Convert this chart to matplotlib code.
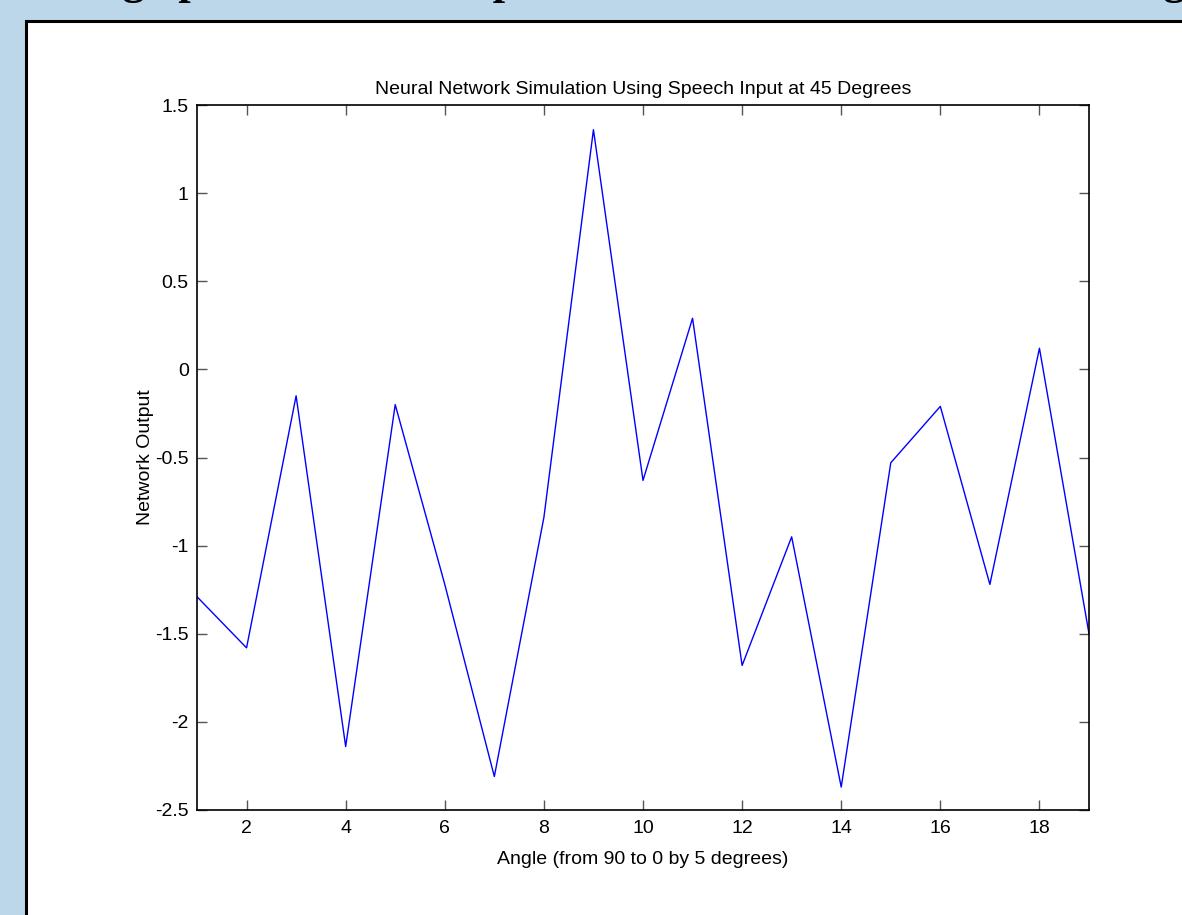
import matplotlib
matplotlib.use("Agg")
import matplotlib.pyplot as plt
from matplotlib.patches import Rectangle

# values
angle_idx = list(range(1, 20))
net_output = [-1.29, -1.58, -0.15, -2.14, -0.20, -1.22, -2.31, -0.84, 1.36, -0.63,
              0.29, -1.68, -0.95, -2.37, -0.53, -0.21, -1.22, 0.12, -1.50]
x_ticks = [2, 4, 6, 8, 10, 12, 14, 16, 18]
y_ticks = [-2.5, -2, -1.5, -1, -0.5, 0, 0.5, 1, 1.5]
y_ticklabels = ["-2.5", "-2", "-1.5", "-1", "-0.5", "0", "0.5", "1", "1.5"]

W, H = 1182, 915
BLUE = "#bdd7ea"

fig = plt.figure(figsize=(W / 100, H / 100), dpi=100, facecolor=BLUE)

# page heading above the panel, only its descenders show in the shot
fig.text(8 / W, 1 + 6 / H,
         "Testing optimization of input for the neural network at all angles with the trained accuracy",
         family="Liberation Serif", weight="bold", fontsize=32, ha="left", va="baseline")

# white panel with black frame
fig.patches.append(Rectangle((26 / W, -0.1), 1.2, 1.1 - 21 / H, transform=fig.transFigure,
                             facecolor="white", edgecolor="black", linewidth=2.2, zorder=0))

ax = fig.add_axes([197 / W, (H - 810) / H, 892 / W, 705 / H])
ax.set_zorder(3)
ax.plot(angle_idx, net_output, color="#0000ff", linewidth=1.0)

ax.set_xlim(1, 19)
ax.set_ylim(-2.5, 1.5)
ax.set_xticks(x_ticks)
ax.set_yticks(y_ticks)
ax.set_yticklabels(y_ticklabels)

font = "Liberation Sans"
fs = 14
ax.tick_params(direction="in", length=7, width=1, color="#555555", top=True, right=True,
               labelsize=fs)
ax.tick_params(axis="x", pad=7)
ax.tick_params(axis="y", pad=6)
for lab in ax.get_xticklabels() + ax.get_yticklabels():
    lab.set_family(font)
for sp in ax.spines.values():
    sp.set_linewidth(1.2)
    sp.set_color("black")

ax.set_title("Neural Network Simulation Using Speech Input at 45 Degrees",
             family=font, fontsize=fs, pad=8)
ax.set_xlabel("Angle (from 90 to 0 by 5 degrees)", family=font, fontsize=fs, labelpad=10)
ax.set_ylabel("Network Output", family=font, fontsize=fs, labelpad=1)

fig.savefig("out.png", dpi=100, facecolor=BLUE)
